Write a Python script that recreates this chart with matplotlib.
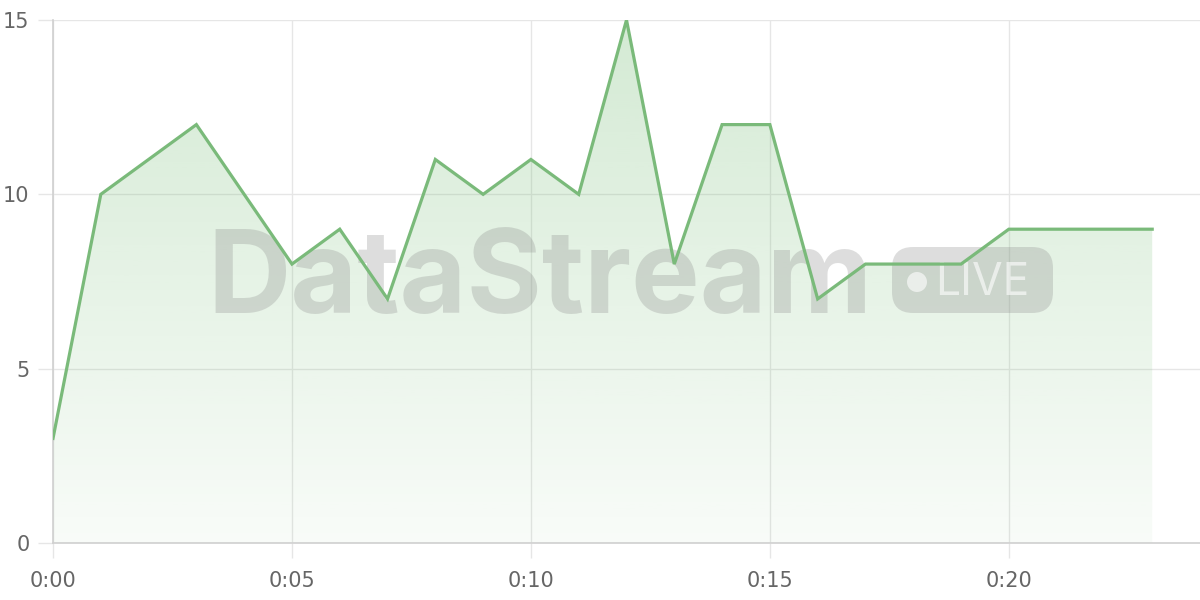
import matplotlib.pyplot as plt
import numpy as np
from matplotlib.patches import FancyBboxPatch, Circle, PathPatch
from matplotlib.path import Path as MPath
from matplotlib.transforms import IdentityTransform

minutes = list(range(24))
values = [3, 10, 11, 12, 10, 8, 9, 7, 11, 10, 11, 10, 15, 8, 12, 12, 7, 8, 8, 8, 9, 9, 9, 9]
xticks = [0, 5, 10, 15, 20]
xlabels = ["0:00", "0:05", "0:10", "0:15", "0:20"]
yticks = [0, 5, 10, 15]

LINE = "#7aba7a"
GRID = "#e6e6e6"
TXT = "#666666"
H = 600  # figure height in px, for pixel placement of the watermark

fig = plt.figure(figsize=(12, 6), dpi=100)
ax = fig.add_axes([53 / 1200, 57 / 600, 1 - 53 / 1200, (543 - 20) / 600])
ax.set_xlim(0, 24)
ax.set_ylim(0, 15)

# gradient fill under line
grad = np.linspace(0.05, 0.32, 256).reshape(-1, 1)
rgba = np.zeros((256, 1, 4))
rgba[..., 0] = 120 / 255
rgba[..., 1] = 190 / 255
rgba[..., 2] = 120 / 255
rgba[..., 3] = grad
im = ax.imshow(rgba, extent=[0, 24, 0, 15], origin="lower", aspect="auto", zorder=1)
verts = [(minutes[0], 0)] + list(zip(minutes, values)) + [(minutes[-1], 0), (minutes[0], 0)]
clip = PathPatch(MPath(verts), transform=ax.transData, facecolor="none", edgecolor="none")
ax.add_patch(clip)
im.set_clip_path(clip)

ax.plot(minutes, values, color=LINE, lw=2.3, zorder=6, solid_joinstyle="miter")

ax.set_xticks(xticks)
ax.set_xticklabels(xlabels)
ax.set_yticks(yticks)
ax.grid(True, color=GRID, lw=1)
ax.set_axisbelow(True)
for s in ["top", "right"]:
    ax.spines[s].set_visible(False)
for s in ["left", "bottom"]:
    ax.spines[s].set_color("#d0d0d0")
    ax.spines[s].set_linewidth(1.2)
ax.tick_params(colors=GRID, labelcolor=TXT, labelsize=15, length=11, width=1)
ax.tick_params(axis="x", pad=9)
ax.tick_params(axis="y", pad=6)

# watermark (pixel coords, y from bottom), below the line
wm = "#888888"
idt = IdentityTransform()
ax.text(207, H - 313, "DataStream", fontsize=83, fontweight="bold", family="Inter",
        color=wm, alpha=0.28, ha="left", va="baseline", zorder=3,
        transform=idt, clip_on=False)
badge = FancyBboxPatch((892, H - 313), 161, 66,
                       boxstyle="round,pad=0,rounding_size=21", transform=idt,
                       facecolor=wm, edgecolor="none", alpha=0.28, zorder=3, clip_on=False)
ax.add_patch(badge)
ax.add_patch(Circle((917, H - 282), 10, transform=idt, facecolor="white", alpha=0.6,
                    edgecolor="none", zorder=4, clip_on=False))
ax.text(935, H - 295, "LIVE", fontsize=32, family="Inter", color="white", alpha=0.6,
        ha="left", va="baseline", zorder=4, transform=idt, clip_on=False)

fig.savefig("out.png", dpi=100)
